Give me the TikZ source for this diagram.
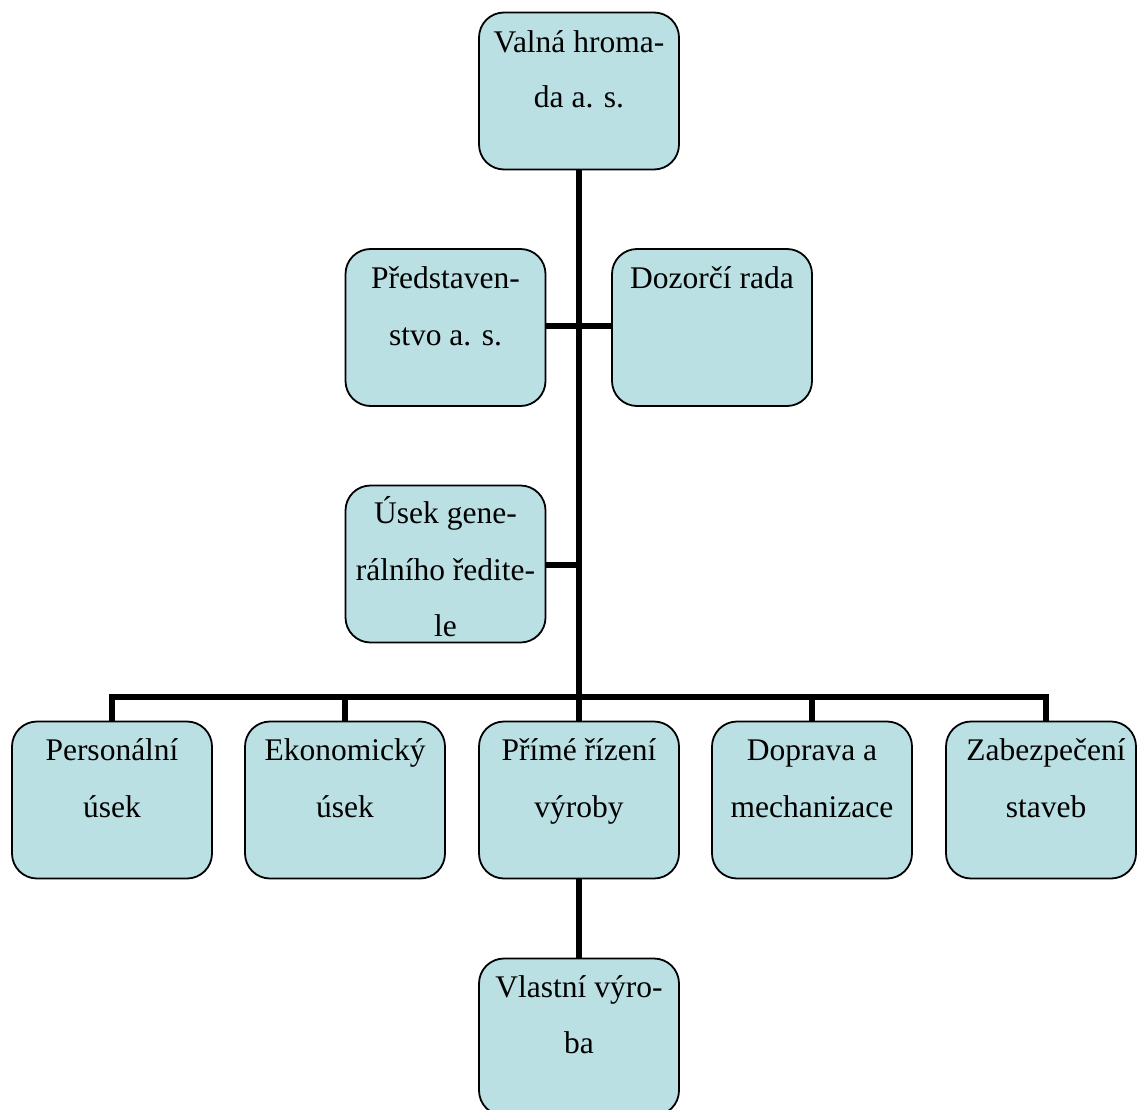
\documentclass[tikz,border=0pt]{standalone}
\usepackage{fontspec}
\setmainfont{Liberation Serif}
\definecolor{boxfill}{RGB}{186,224,228}
\tikzset{
  x=1pt, y=-1pt,
  orgbox/.style={draw=black, fill=boxfill, line width=1.8pt, rounded corners=25pt,
    minimum width=200pt, minimum height=157pt, inner sep=0pt},
  txt/.style={anchor=base, inner sep=0pt, font=\fontsize{31.5}{36}\selectfont},
  conn/.style={line width=6pt}
}
\begin{document}
\begin{tikzpicture}
\useasboundingbox (0,0) rectangle (1137,1110);
\fill[white] (0,0) rectangle (1137,1110);
% boxes
\node[orgbox] (vh) at (579,91) {};
\node[orgbox] (pred) at (445.5,327.5) {};
\node[orgbox] (doz) at (712,327.5) {};
\node[orgbox] (useg) at (445.5,564) {};
\node[orgbox] (pers) at (112,800) {};
\node[orgbox] (ekon) at (345,800) {};
\node[orgbox] (prim) at (579,800) {};
\node[orgbox] (dopr) at (812,800) {};
\node[orgbox, minimum width=190pt] (zab) at (1041,800) {};
\node[orgbox] (vlas) at (579,1037) {};
% connectors
\coordinate (j1) at (579,697);
\coordinate (jpd) at (579,326);
\coordinate (jug) at (579,565);
\coordinate (zabtop) at (1046,721);
\coordinate (jl) at (112,697);
\coordinate (jr) at (1046,697);
\draw[conn] (vh.south) -- (j1);
\draw[conn] (pred.east |- jpd) -- (doz.west |- jpd);
\draw[conn] (useg.east |- jug) -- (jug);
\draw[conn, line cap=rect] (jl) -- (jr);
\draw[conn] (jl) -- (pers.north);
\draw[conn] (ekon.north |- j1) -- (ekon.north);
\draw[conn] (prim.north |- j1) -- (prim.north);
\draw[conn] (dopr.north |- j1) -- (dopr.north);
\draw[conn] (jr) -- (zabtop);
\draw[conn] (prim.south) -- (vlas.north);
% texts
\node[txt] (t1a) at (579,53) {Valná hroma-};
\node[txt] (t1b) at (579,108) {da a. s.};
\node[txt] (t2a) at (445.5,288) {Představen-};
\node[txt] (t2b) at (445.5,345) {stvo a. s.};
\node[txt] (t3a) at (712,288) {Dozorčí rada};
\node[txt] (t4a) at (445.5,523) {Úsek gene-};
\node[txt] (t4b) at (445.5,580) {rálního ředite-};
\node[txt] (t4c) at (445.5,636) {le};
\node[txt] (t5a) at (112,760) {Personální};
\node[txt] (t5b) at (112,817) {úsek};
\node[txt] (t6a) at (345,760) {Ekonomický};
\node[txt] (t6b) at (345,817) {úsek};
\node[txt] (t7a) at (579,760) {Přímé řízení};
\node[txt] (t7b) at (579,817) {výroby};
\node[txt] (t8a) at (812,760) {Doprava a};
\node[txt] (t8b) at (812,817) {mechanizace};
\node[txt] (t9a) at (1046,760) {Zabezpečení};
\node[txt] (t9b) at (1046,817) {staveb};
\node[txt] (t10a) at (579,997) {Vlastní výro-};
\node[txt] (t10b) at (579,1053) {ba};
\end{tikzpicture}
\end{document}
